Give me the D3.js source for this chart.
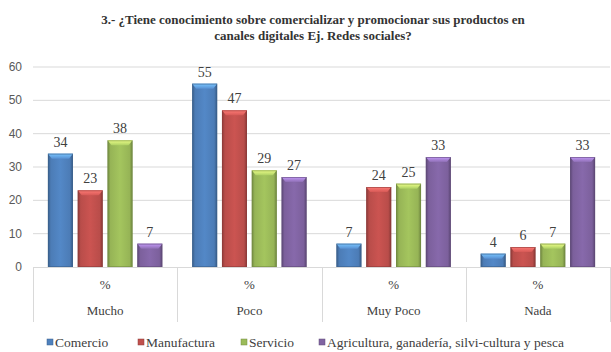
<!DOCTYPE html>
<html>
<head>
<meta charset="utf-8">
<script src="https://cdn.jsdelivr.net/npm/d3@7/dist/d3.min.js"></script>
<style>
  html, body { margin: 0; padding: 0; background: #fff; }
  svg { display: block; }
</style>
</head>
<body>
<svg id="chart" width="611" height="352"></svg>
<script>
// Survey answers per sector (percent)
const categories = ["Mucho", "Poco", "Muy Poco", "Nada"];
const seriesNames = ["Comercio", "Manufactura", "Servicio", "Agricultura, ganadería, silvi-cultura y pesca"];
const comercio    = [34, 55, 7, 4];
const manufactura = [23, 47, 24, 6];
const servicio    = [38, 29, 25, 7];
const agricultura = [7, 27, 33, 33];
const yTicks = [0, 10, 20, 30, 40, 50, 60];
const seriesColors = ["#4F81BD", "#C0504D", "#9BBB59", "#8064A2"];

const seriesValues = [comercio, manufactura, servicio, agricultura];

const SERIF = "'Liberation Serif'";
const SANS = "'Liberation Sans'";

const svg = d3.select("#chart");
const plotLeft = 33, plotRight = 610, plotTop = 67, plotBottom = 267;

// Title
[["3.- ¿Tiene conocimiento sobre comercializar y promocionar sus productos en", 24],
 ["canales digitales Ej. Redes sociales?", 40]].forEach(([line, ty]) => {
  svg.append("text").attr("x", 313).attr("y", ty)
    .attr("text-anchor", "middle").attr("fill", "#333")
    .attr("font-size", 13).attr("font-weight", "bold")
    .style("font-family", SERIF)
    .text(line);
});

const x0 = d3.scaleBand().domain(categories).range([plotLeft, plotRight]).paddingInner(0).paddingOuter(0);
const x1 = d3.scaleBand().domain(d3.range(seriesNames.length))
  .range([0, x0.bandwidth()]).paddingInner(0.16).paddingOuter(0.5);
const y = d3.scaleLinear().domain([0, 60]).range([plotBottom, plotTop]);

// Gradients giving each bar a bevelled look
const defs = svg.append("defs");
seriesColors.forEach((c, i) => {
  const base = d3.color(c);
  const g = defs.append("linearGradient").attr("id", "grad" + i)
    .attr("x1", "0").attr("x2", "1").attr("y1", "0").attr("y2", "0");
  g.append("stop").attr("offset", "0%").attr("stop-color", base.darker(0.9));
  g.append("stop").attr("offset", "12%").attr("stop-color", base.darker(0.1));
  g.append("stop").attr("offset", "50%").attr("stop-color", base.brighter(0.15));
  g.append("stop").attr("offset", "88%").attr("stop-color", base.darker(0.1));
  g.append("stop").attr("offset", "100%").attr("stop-color", base.darker(1.0));
  const t = defs.append("linearGradient").attr("id", "cap" + i)
    .attr("x1", "0").attr("x2", "0").attr("y1", "0").attr("y2", "1");
  t.append("stop").attr("offset", "0%").attr("stop-color", base.brighter(1.2));
  t.append("stop").attr("offset", "100%").attr("stop-color", base.brighter(0.3));
});

// Gridlines and y tick labels
const grid = svg.append("g");
grid.selectAll("line").data(yTicks.filter(d => d > 0)).join("line")
  .attr("x1", plotLeft).attr("x2", plotRight)
  .attr("y1", d => y(d)).attr("y2", d => y(d))
  .attr("stroke", "#d9d9d9").attr("stroke-width", 1);
grid.selectAll("text").data(yTicks).join("text")
  .attr("x", 22).attr("y", d => y(d) + 4)
  .attr("text-anchor", "end").attr("font-size", 12).attr("fill", "#595959")
  .style("font-family", SANS)
  .text(d => d);

// Category table under the plot
const tbl = svg.append("g").attr("stroke", "#d9d9d9").attr("stroke-width", 1);
tbl.append("line").attr("x1", plotLeft).attr("x2", plotRight).attr("y1", plotBottom + 0.5).attr("y2", plotBottom + 0.5);
const dividers = categories.map(c => x0(c)).concat([plotRight]);
tbl.selectAll("line.v").data(dividers).join("line").attr("class", "v")
  .attr("x1", d => Math.round(d) + 0.5).attr("x2", d => Math.round(d) + 0.5)
  .attr("y1", plotBottom).attr("y2", 322);

categories.forEach(cat => {
  const cx = x0(cat) + x0.bandwidth() / 2;
  svg.append("text").attr("x", cx).attr("y", 289)
    .attr("text-anchor", "middle").attr("font-size", 13).attr("fill", "#404040")
    .style("font-family", SERIF).text("%");
  svg.append("text").attr("x", cx).attr("y", 315)
    .attr("text-anchor", "middle").attr("font-size", 13).attr("fill", "#404040")
    .style("font-family", SERIF).text(cat);
});

// Bars
const groups = svg.append("g").selectAll("g").data(categories).join("g")
  .attr("transform", d => `translate(${x0(d)},0)`);
groups.each(function(cat, ci) {
  const g = d3.select(this);
  seriesValues.forEach((vals, si) => {
    const v = vals[ci];
    const bx = x1(si), bw = x1.bandwidth();
    const by = y(v), bh = plotBottom - by;
    g.append("rect").attr("x", bx).attr("y", by).attr("width", bw).attr("height", bh)
      .attr("fill", `url(#grad${si})`);
    const cap = Math.min(5, bh);
    g.append("path")
      .attr("d", `M${bx},${by} L${bx + bw},${by} L${bx + bw - 4},${by + cap} L${bx + 4},${by + cap} Z`)
      .attr("fill", `url(#cap${si})`);
    g.append("rect").attr("x", bx + 0.5).attr("y", by + 0.5).attr("width", bw - 1).attr("height", Math.max(0, bh - 1))
      .attr("fill", "none").attr("stroke", d3.color(seriesColors[si]).darker(0.8)).attr("stroke-width", 1).attr("stroke-opacity", 0.6);
    g.append("text").attr("x", bx + bw / 2).attr("y", by - 7)
      .attr("text-anchor", "middle").attr("font-size", 14).attr("fill", "#404040")
      .style("font-family", SERIF)
      .text(v);
  });
});

// Legend
const legendX = [47, 138, 241, 319];
seriesNames.forEach((name, i) => {
  const lx = legendX[i];
  svg.append("rect").attr("x", lx).attr("y", 339).attr("width", 6).attr("height", 6)
    .attr("fill", seriesColors[i]).attr("stroke", d3.color(seriesColors[i]).darker(0.8)).attr("stroke-width", 0.5);
  svg.append("text").attr("x", lx + 8).attr("y", 347)
    .attr("font-size", 13.5).attr("fill", "#404040")
    .style("font-family", SERIF)
    .text(name);
});
</script>
</body>
</html>
